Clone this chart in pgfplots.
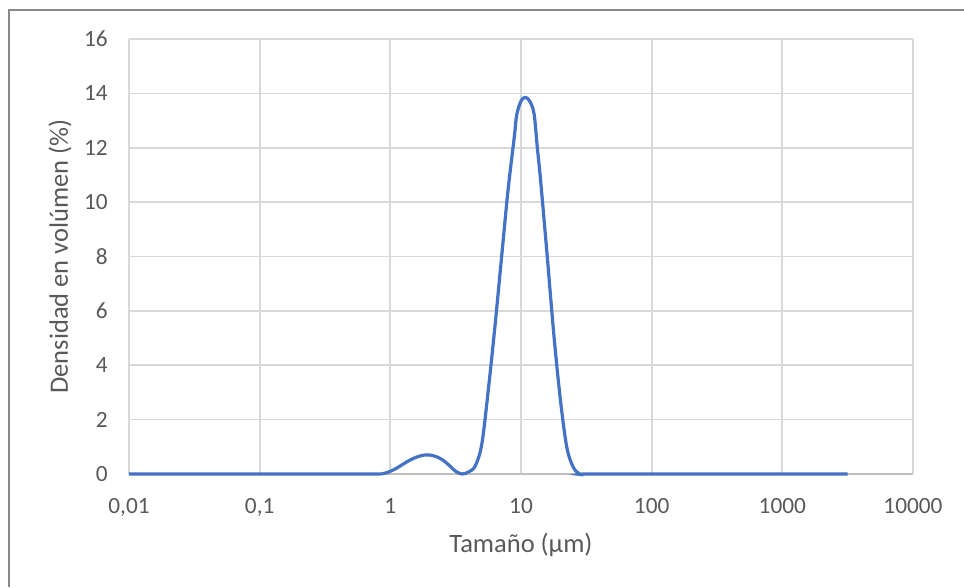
\documentclass[border=0pt]{standalone}
\usepackage{pgfplots}
\pgfplotsset{compat=1.18}
\usepackage{fontspec}
\setmainfont{Carlito}
\definecolor{txt}{RGB}{89,89,89}
\definecolor{gridc}{RGB}{217,217,217}
\definecolor{axc}{RGB}{191,191,191}
\definecolor{curve}{RGB}{68,114,196}
\definecolor{frame}{RGB}{137,137,137}
\begin{document}
\begin{tikzpicture}[x=1pt,y=1pt]
\useasboundingbox (0,0) rectangle (964,587);
\draw[frame,line width=1.3pt] (9,0) -- (9,577) -- (964,577);
\begin{axis}[
  at={(129pt,113pt)}, anchor=south west,
  scale only axis, width=784pt, height=435pt,
  xmode=log, xmin=0.01, xmax=10000,
  ymin=0, ymax=16,
  xtick={0.01,0.1,1,10,100,1000,10000},
  xticklabels={{0,01},{0,1},1,10,100,1000,10000},
  ytick={0,2,4,6,8,10,12,14,16},
  yticklabels={0,2,4,6,8,10,12,14,16},
  major tick length=0pt, minor tick length=0pt,
  minor xtick={},
  grid=major,
  major grid style={gridc, line width=1.7pt},
  axis x line*=bottom, axis y line*=left,
  x axis line style={axc, line width=1.7pt, -},
  y axis line style={draw=none},
  ticklabel style={font=\fontsize{23.3}{28}\selectfont, text=txt, inner sep=0pt},
  xticklabel style={anchor=north, yshift=-24pt},
  yticklabel style={anchor=east, xshift=-21pt},
  label style={font=\fontsize{26.5}{32}\selectfont, text=txt},
  xlabel={Tamaño (µm)},
  ylabel={Densidad en volúmen (\%)},
  xlabel style={at={(axis description cs:0.5,0)}, anchor=center, yshift=-71pt},
  ylabel style={at={(axis description cs:0,0.5)}, anchor=center, yshift=69pt},
  clip=false,
]
\addplot[curve, line width=3.2pt, smooth, tension=0.55] coordinates {
(0.01,0) (0.1,0) (0.5,0) (0.7943,0) (0.8913,0.02) (1,0.10) (1.1220,0.22)
(1.2589,0.37) (1.4125,0.51) (1.5849,0.62) (1.7783,0.69) (1.9953,0.70)
(2.2387,0.64) (2.5119,0.52) (2.8184,0.32) (3.1623,0.10) (3.5481,0.0)
(3.9811,0.08) (4.4668,0.30) (5.0119,1.1) (5.6234,3.1) (6.3096,5.4)
(7.0795,7.9) (7.9433,10.4) (8.9125,12.45) (9.268,13.2) (10,13.72)
(10.79,13.85) (11.64,13.72) (12.589,13.25) (13.335,12.0) (14.125,10.8)
(15.849,8.05) (17.783,5.2) (19.953,2.8) (22.387,1.0) (25.119,0.25)
(28.184,0.0) (31.623,0) (100,0) (1000,0) (3162,0)
};
\end{axis}
\end{tikzpicture}
\end{document}
